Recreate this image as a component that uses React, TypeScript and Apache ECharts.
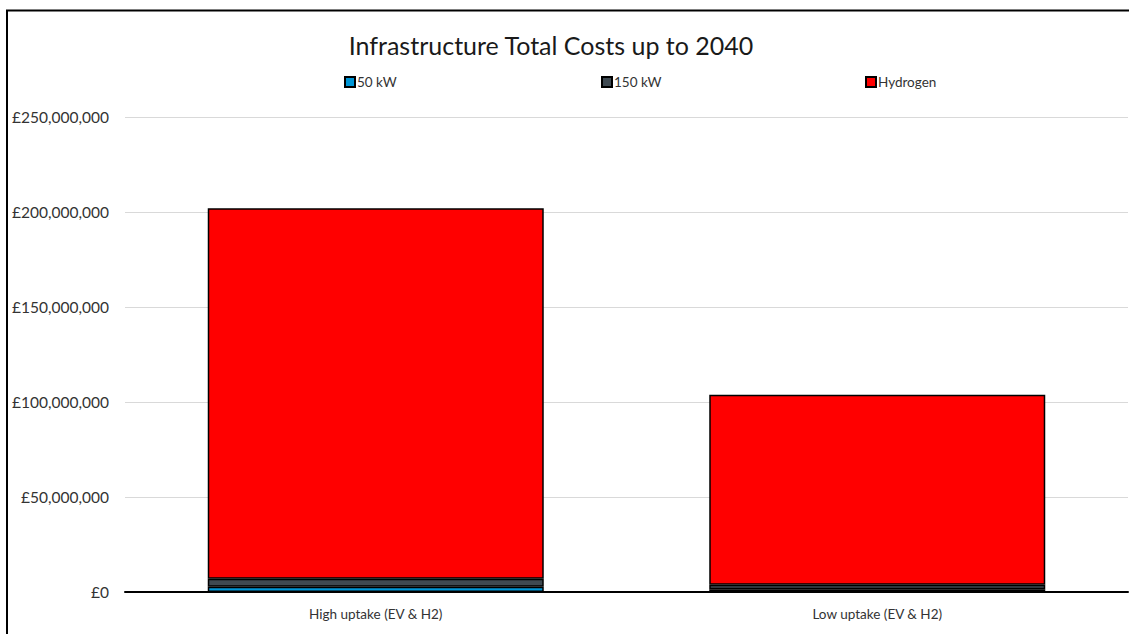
import React, { useEffect, useRef } from "react";
import * as echarts from "echarts";

const categories = ["High uptake (EV & H2)", "Low uptake (EV & H2)"];
const kw50 = [2700000, 1500000];
const kw150 = [4300000, 2300000];
const hydrogen = [195000000, 100000000];
const seriesNames = ["50 kW", "150 kW", "Hydrogen"];
const colors = ["#0096D6", "#3F4A52", "#FF0000"];

const fmt = (v: number) => "£" + v.toLocaleString("en-GB");

export default function App() {
  const ref = useRef<HTMLDivElement>(null);
  useEffect(() => {
    document.body.style.margin = "0";
    const chart = echarts.init(ref.current!, null, { renderer: "svg" });
    const font = "Lato, 'Open Sans', sans-serif";
    const data = [kw50, kw150, hydrogen];
    const legendLefts = [339, 596, 860];
    chart.setOption({
      animation: false,
      backgroundColor: "#fff",
      textStyle: { fontFamily: font },
      title: {
        text: "Infrastructure Total Costs up to 2040",
        left: 546,
        textAlign: "center",
        top: 27,
        textStyle: { fontSize: 25, fontWeight: "normal", color: "#1a1a1a", fontFamily: font },
      },
      legend: seriesNames.map((n, i) => ({
        data: [n],
        left: legendLefts[i],
        top: 70,
        itemWidth: 10,
        itemHeight: 10,
        itemGap: 3,
        textStyle: { fontSize: 13.5, color: "#333", fontFamily: font, padding: [0, 0, 0, -3] },
        icon: "rect",
      })),
      grid: { left: 125, right: 1, top: 117, bottom: 42, containLabel: false },
      xAxis: {
        type: "category",
        data: categories,
        axisTick: { show: false },
        axisLine: { lineStyle: { color: "#000", width: 2 } },
        axisLabel: { fontSize: 13.5, color: "#333", margin: 15, fontFamily: font },
      },
      yAxis: {
        type: "value",
        min: 0,
        max: 250000000,
        interval: 50000000,
        axisLabel: { formatter: fmt, fontSize: 15.5, color: "#333", margin: 16, fontFamily: font },
        splitLine: { lineStyle: { color: "#d9d9d9", width: 1 } },
        axisLine: { show: false },
        axisTick: { show: false },
      },
      series: seriesNames.map((n, i) => ({
        name: n,
        type: "bar",
        stack: "total",
        data: data[i],
        barWidth: "67%",
        itemStyle: { color: colors[i], borderColor: "#000", borderWidth: 1.5 },
      })),
      graphic: [
        {
          type: "rect",
          shape: { x: 7, y: 10.5, width: 1130, height: 640 },
          style: { fill: "none", stroke: "#000", lineWidth: 2 },
          silent: true,
        },
      ],
    });
    return () => chart.dispose();
  }, []);
  return <div ref={ref} style={{ width: 1129, height: 634 }} />;
}
